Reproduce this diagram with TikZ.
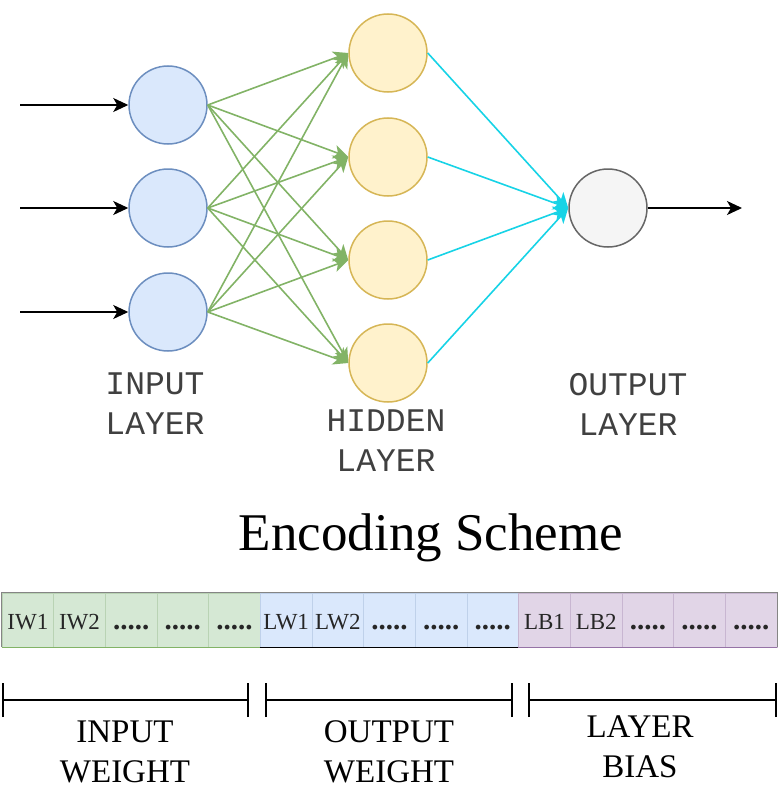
\documentclass[tikz,border=0pt]{standalone}
\usepackage{fontspec}
\setmainfont{Liberation Serif}
\newfontfamily\monof{Liberation Mono}
\usetikzlibrary{arrows.meta}
\newcommand\mydots{{\fontsize{29}{30}\selectfont\bfseries .....}}
\definecolor{inF}{HTML}{DAE8FC}\definecolor{inD}{HTML}{6C8EBF}
\definecolor{hidF}{HTML}{FFF2CC}\definecolor{hidD}{HTML}{D6B656}
\definecolor{outF}{HTML}{F5F5F5}\definecolor{outD}{HTML}{666666}
\definecolor{edgeG}{HTML}{82B366}\definecolor{edgeC}{HTML}{17D3E6}
\definecolor{gF}{HTML}{D5E8D4}\definecolor{gL}{HTML}{B9D3B4}
\definecolor{bF}{HTML}{DAE8FC}\definecolor{bL}{HTML}{BFD1EA}
\definecolor{pF}{HTML}{E1D5E7}\definecolor{pL}{HTML}{C8B6D1}
\definecolor{pD}{HTML}{9673A6}
\begin{document}
\begin{tikzpicture}[x=1pt,y=-1pt,
  neuron/.style={circle,minimum size=78pt,inner sep=0pt,line width=1.5pt},
  inN/.style={neuron,fill=inF,draw=inD},
  hidN/.style={neuron,fill=hidF,draw=hidD},
  outN/.style={neuron,fill=outF,draw=outD},
  arr/.style={line width=1.6pt,-{Stealth[length=15pt,width=14pt,inset=4pt]}},
  garr/.style={arr,draw=edgeG,fill=edgeG,line width=1.6pt},
  carr/.style={arr,draw=edgeC,fill=edgeC,line width=1.6pt},
  layerlbl/.style={font=\monof\fontsize{33}{40}\selectfont,align=center,inner sep=0pt,text=black!75},
  serlbl/.style={font=\fontsize{33}{40}\selectfont,align=center,inner sep=0pt},
  cell/.style={minimum width=51.67pt,minimum height=54pt,inner sep=0pt,line width=0.8pt},
  celltxt/.style={font=\fontsize{23}{24}\selectfont,anchor=base,inner sep=0pt,text=black!85},
  brk/.style={line width=1.4pt}]
\useasboundingbox (0,0) rectangle (783,792);
% neurons
\node[inN] (i1) at (168,105) {};
\node[inN] (i2) at (168,208) {};
\node[inN] (i3) at (168,312) {};
\node[hidN] (h1) at (388,53) {};
\node[hidN] (h2) at (388,157) {};
\node[hidN] (h3) at (388,260) {};
\node[hidN] (h4) at (388,363) {};
\node[outN] (o) at (608,208) {};
% inputs
\coordinate (s1) at (20,105);
\coordinate (s2) at (20,208);
\coordinate (s3) at (20,312);
\coordinate (e) at (742,208);
\foreach \k in {1,2,3} \draw[arr] (s\k) -- (i\k.west);
\draw[arr] (o.east) -- (e);
\foreach \a in {1,2,3} \foreach \b in {1,2,3,4} \draw[garr] (i\a.east) -- (h\b.west);
\foreach \b in {1,2,3,4} \draw[carr] (h\b.east) -- (o.west);
% layer labels
\node[layerlbl] (lin) at (155,404) {INPUT\\LAYER};
\node[layerlbl] (lhid) at (386,441) {HIDDEN\\LAYER};
\node[layerlbl] (lout) at (628,404) {OUTPUT\\LAYER};
% title
\node[font=\fontsize{53}{60}\selectfont,inner sep=0pt] (title) at (431,538) {Encoding Scheme};
% encoding cells
\foreach \i/\lab/\f/\d in {0/IW1/gF/gL,1/IW2/gF/gL,2/\mydots/gF/gL,3/\mydots/gF/gL,4/\mydots/gF/gL,
  5/LW1/bF/bL,6/LW2/bF/bL,7/\mydots/bF/bL,8/\mydots/bF/bL,9/\mydots/bF/bL,
  10/LB1/pF/pL,11/LB2/pF/pL,12/\mydots/pF/pL,13/\mydots/pF/pL,14/\mydots/pF/pL}{
  \node[cell,fill=\f,draw=\d] (c\i) at ({2+51.67*\i+25.83},620) {};
  \node[celltxt] (t\i) at ({2+51.67*\i+25.83},629) {\lab};
}
\draw[outD!80,line width=1.2pt] (c0.south west) -- (c0.north west) -- (c14.north east) -- (c14.south east);
\draw[edgeG,line width=1.5pt] (c0.south west) -- (c4.south east);
\draw[black,line width=1.5pt] (c5.south west) -- (c9.south east);
\draw[pD,line width=1.5pt] (c10.south west) -- (c14.south east);
% brackets
\foreach \n/\xa/\xb in {1/3/248,2/266/512,3/529/776}{
  \coordinate (ba\n) at (\xa,700);
  \coordinate (bb\n) at (\xb,700);
  \draw[brk] (ba\n) -- (bb\n);
  \draw[brk] ([yshift=-17pt]ba\n) -- ([yshift=17pt]ba\n);
  \draw[brk] ([yshift=-17pt]bb\n) -- ([yshift=17pt]bb\n);
}
\node[serlbl] (w1) at (125,752) {INPUT\\WEIGHT};
\node[serlbl] (w2) at (389,752) {OUTPUT\\WEIGHT};
\node[serlbl] (w3) at (640,747) {LAYER\\BIAS};
\end{tikzpicture}
\end{document}
